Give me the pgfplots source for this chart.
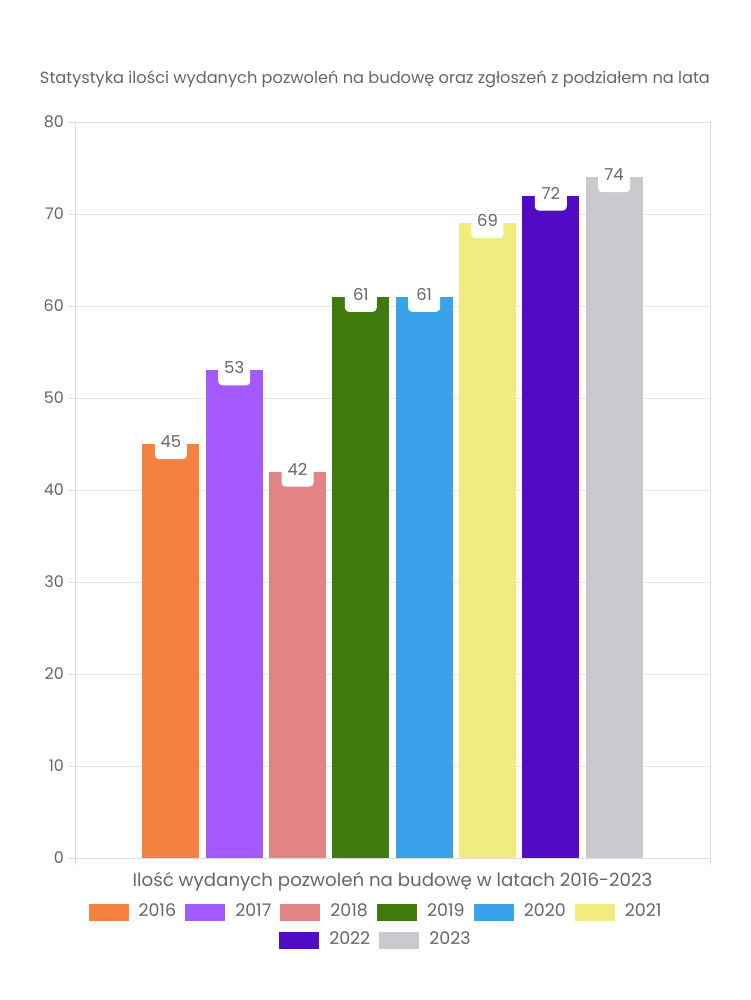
\documentclass[border=0pt]{standalone}
\usepackage{fontspec}
\setmainfont{Poppins}
\usepackage{pgfplots}
\pgfplotsset{compat=1.18}
\definecolor{c2016}{RGB}{244,129,63}
\definecolor{c2017}{RGB}{162,89,255}
\definecolor{c2018}{RGB}{224,132,132}
\definecolor{c2019}{RGB}{62,123,12}
\definecolor{c2020}{RGB}{56,163,234}
\definecolor{c2021}{RGB}{240,236,126}
\definecolor{c2022}{RGB}{82,11,197}
\definecolor{c2023}{RGB}{201,202,206}
\definecolor{txt}{RGB}{102,102,102}
\definecolor{gridc}{RGB}{230,230,230}
\definecolor{framec}{RGB}{220,220,220}
\begin{document}
\begin{tikzpicture}
\path[use as bounding box] (-37.5pt,-71pt) rectangle (337.5pt,429pt);
\pgfplotsset{
  common/.style={
    scale only axis, width=317.5pt, height=368pt,
    xmin=-1.515, xmax=8.515, ymin=0, ymax=80,
    at={(0,0)}, anchor=south west,
  },
  legimg/.style={legend image code/.code={\fill[##1] (0pt,-4.25pt) rectangle (20pt,4.25pt); \path (25pt,0pt);}},
  legsty/.style={legend style={draw=none, fill=none,
    font=\fontsize{8.7pt}{10pt}\selectfont, text=txt,
    /tikz/every even column/.append style={column sep=4.6pt},
    nodes={inner xsep=0pt, inner ysep=1pt}}},
}
\begin{axis}[common,
  font=\fontsize{7.5pt}{9pt}\selectfont,
  /pgf/number format/assume math mode=true,
  axis line style={framec},
  ytick={0,10,...,80},
  ymajorgrids, grid style={gridc, line width=0.4pt},
  xtick={-1.515,8.515}, xticklabels={},
  tick pos=left, tick align=outside, major tick length=3.5pt,
  tick style={framec, line width=0.4pt},
  yticklabel style={text=txt, font=\fontsize{8pt}{9pt}\selectfont, xshift=1.5pt},
  title={Statystyka ilości wydanych pozwoleń na budowę oraz zgłoszeń z podziałem na lata},
  title style={at={(0.4724,1)}, anchor=base, yshift=13.5pt, text=txt, font=\fontsize{8.1pt}{9pt}\selectfont},
  xlabel={Ilość wydanych pozwoleń na budowę w latach 2016-2023},
  xlabel style={at={(0.5,0)}, anchor=base, yshift=-14pt, text=txt, font=\fontsize{9.1pt}{10pt}\selectfont},
  legend columns=6,
  legsty,
  legend style={at={(0.4724,0)}, anchor=center, yshift=-27pt},
  legimg,
  nodes near coords={\raisebox{0.75pt}[0pt][0pt]{\pgfmathprintnumber\pgfplotspointmeta}},
  every node near coord/.append style={anchor=center, yshift=-2.5pt, fill=white,
    rounded corners=2pt, minimum width=16pt, minimum height=10pt, inner sep=0pt,
    text=txt, font=\fontsize{8.2pt}{9pt}\selectfont},
]
\addplot[ybar, bar width=0.9, fill=c2016, draw=none] coordinates {(0,45)};
\addlegendentry{2016}
\addplot[ybar, bar width=0.9, fill=c2017, draw=none] coordinates {(1,53)};
\addlegendentry{2017}
\addplot[ybar, bar width=0.9, fill=c2018, draw=none] coordinates {(2,42)};
\addlegendentry{2018}
\addplot[ybar, bar width=0.9, fill=c2019, draw=none] coordinates {(3,61)};
\addlegendentry{2019}
\addplot[ybar, bar width=0.9, fill=c2020, draw=none] coordinates {(4,61)};
\addlegendentry{2020}
\addplot[ybar, bar width=0.9, fill=c2021, draw=none] coordinates {(5,69)};
\addlegendentry{2021}
\addplot[ybar, bar width=0.9, fill=c2022, draw=none, forget plot] coordinates {(6,72)};
\addplot[ybar, bar width=0.9, fill=c2023, draw=none, forget plot] coordinates {(7,74)};
\end{axis}
\begin{axis}[common, hide axis,
  legend columns=2,
  legsty,
  legend style={at={(0.4724,0)}, anchor=center, yshift=-41pt},
  legimg,
]
\addlegendimage{fill=c2022, draw=none}
\addlegendentry{2022}
\addlegendimage{fill=c2023, draw=none}
\addlegendentry{2023}
\end{axis}
\end{tikzpicture}
\end{document}
